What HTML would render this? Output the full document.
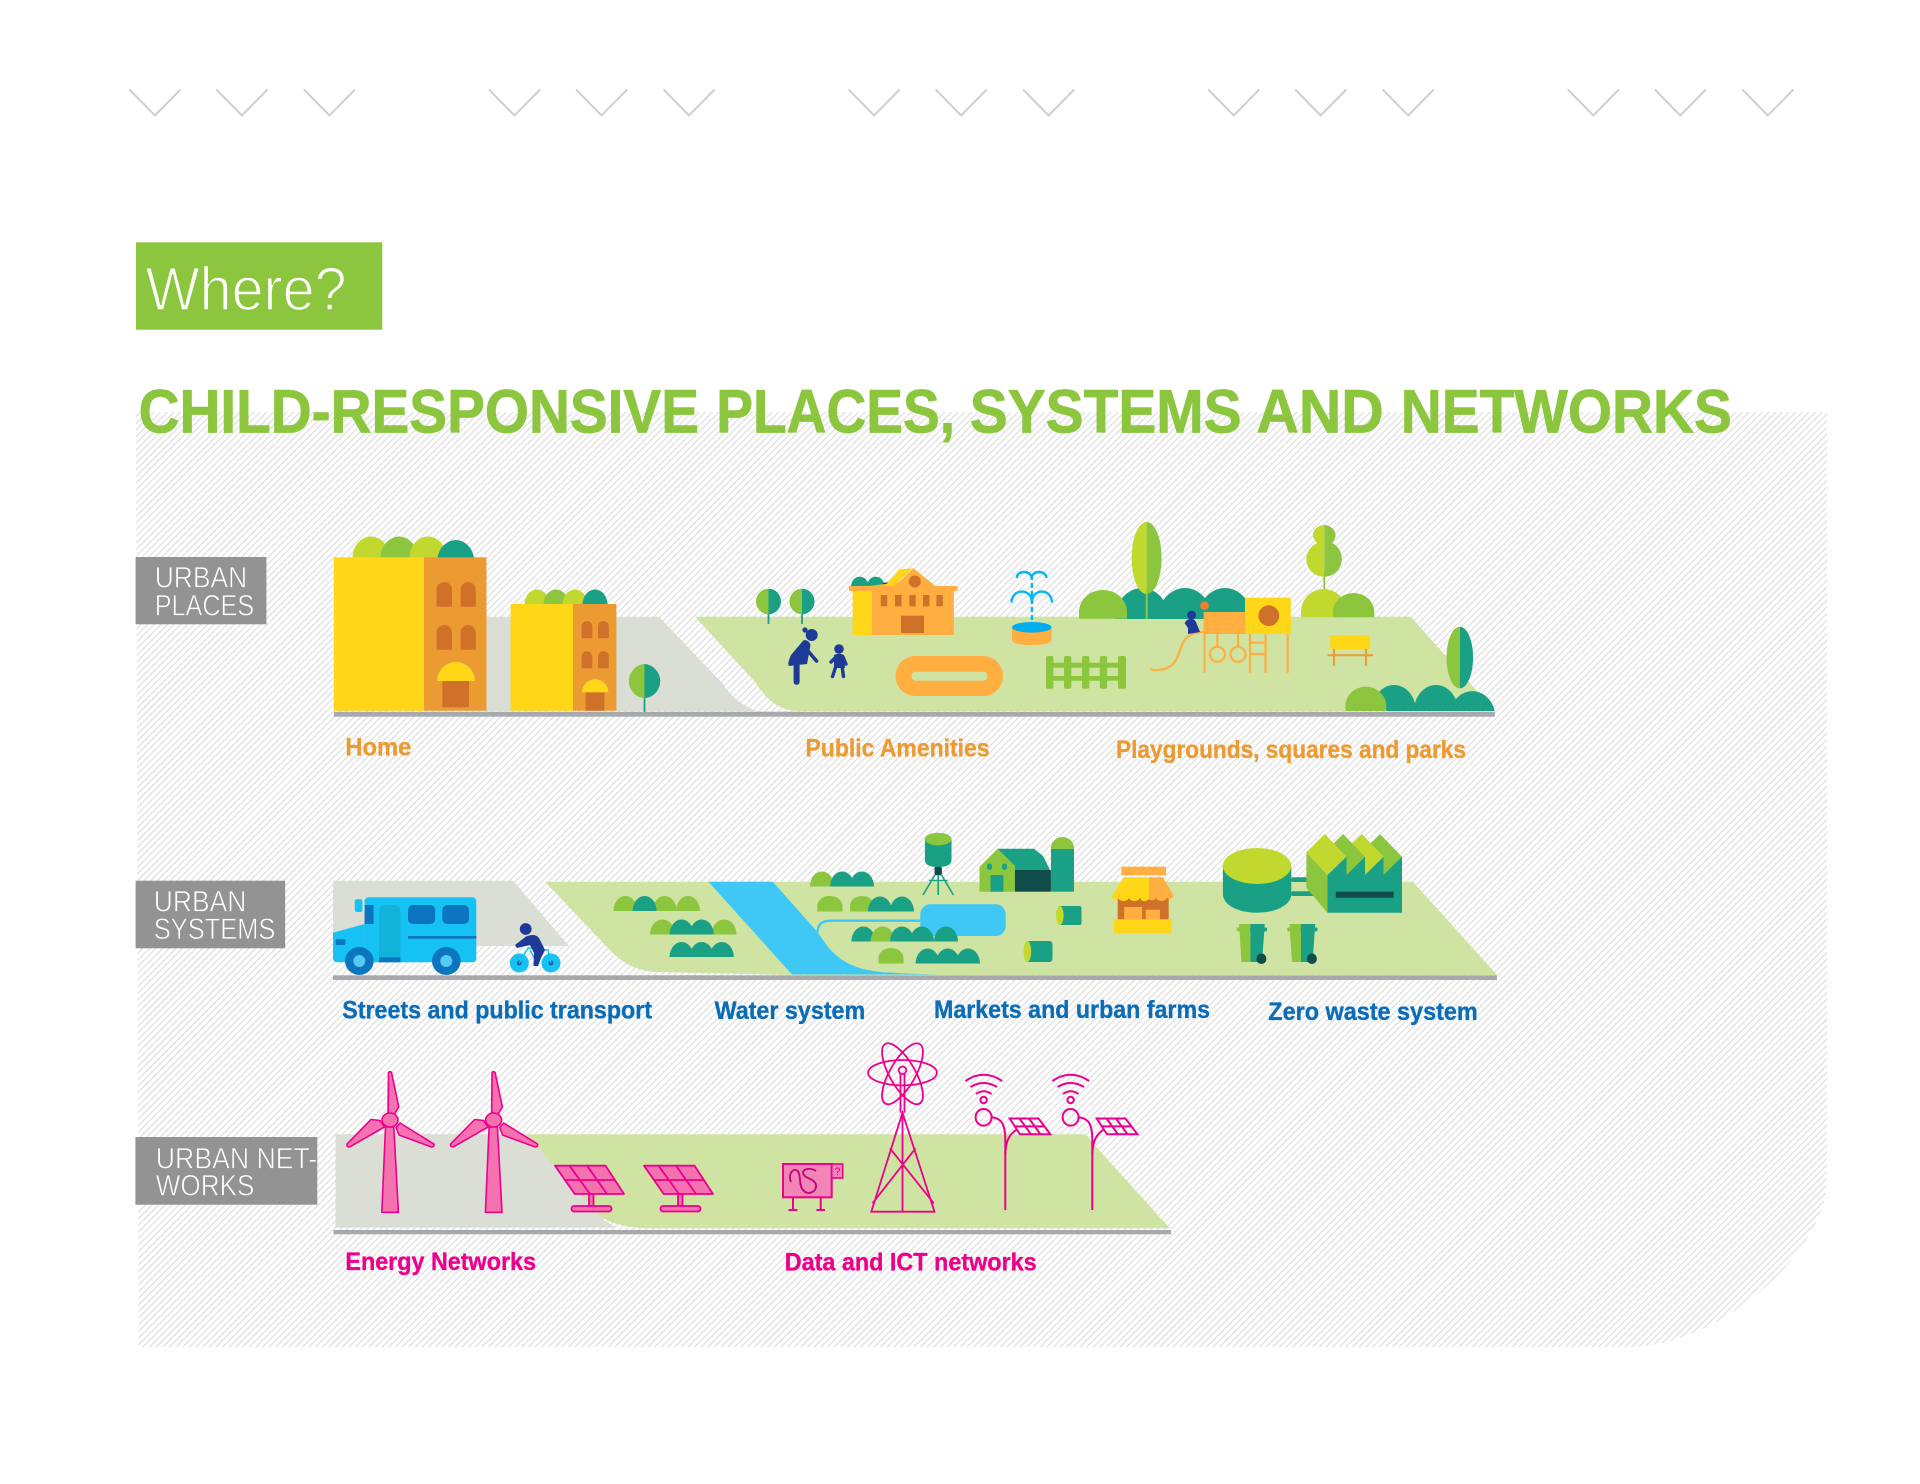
<!DOCTYPE html>
<html><head><meta charset="utf-8"><style>
html,body{margin:0;padding:0;background:#fff}
svg{display:block}
text{font-family:"Liberation Sans",Arial,sans-serif}
.l{font-weight:bold;font-size:25px;stroke-width:.35px}
.t{font-weight:bold;font-size:61.5px;fill:#8cc63f;stroke:#8cc63f;stroke-width:.8px}
.g{fill:#fff;stroke:#939393;stroke-width:.7px;font-size:30px}
</style></head><body>
<svg width="1920" height="1484" viewBox="0 0 1920 1484" xmlns="http://www.w3.org/2000/svg">
<defs>
<pattern id="h" width="4.7" height="4.7" patternUnits="userSpaceOnUse" patternTransform="rotate(45)"><rect width="4.7" height="4.7" fill="#fff"/><rect x="0" width="1.4" height="4.7" fill="#e2e2e2"/></pattern>
<g id="chev"><path d="M129.4 89.5L154.9 115.5L180.5 89.5" fill="none" stroke="#cfcfcf" stroke-width="2"/></g>
<g id="chevs"><use href="#chev"/><use href="#chev" x="87"/><use href="#chev" x="174.5"/></g>
<g id="turb" fill="#f472b0" stroke="#ec008c" stroke-width="1.6" stroke-linejoin="round">
<path d="M385.5 1127L393.8 1127L398.4 1212.3H381.8Z"/>
<path d="M388.5 1072.5Q390 1071 391.5 1072.5L398.8 1107L394.5 1114H388Z"/>
<path d="M347 1144L371 1119.5L380 1120.5L384.5 1127L349.5 1147Q346.5 1147 347 1144Z"/>
<path d="M434 1144L400 1123L396 1127.5L399 1135L431.5 1147Q434.5 1147 434 1144Z"/>
<ellipse cx="390" cy="1120" rx="8" ry="7"/>
</g>
<g id="solar" stroke="#ec008c" stroke-width="1.8" fill="#f472b0" stroke-linejoin="round">
<path d="M555 1165.7H605.6L624 1194H574.7Z"/>
<path d="M569.5 1165.7L590 1194M587 1165.7L607 1194M564.5 1180H614.5" fill="none"/>
<rect x="589" y="1194" width="4.5" height="12"/>
<rect x="571.5" y="1206" width="40" height="5.5" rx="2.5"/>
</g>
<g id="lamp" fill="none" stroke="#ec008c" stroke-width="2">
<path d="M1005.3 1210V1140C1005.3 1125 1002 1118.5 992 1117.3"/>
<ellipse cx="983.6" cy="1117.3" rx="8" ry="8.3"/>
<path d="M1005.3 1155C1005.5 1142 1009 1134 1017 1129.3"/>
<path d="M1009.7 1118.5H1038.5L1050.4 1134.3H1020ZM1019.5 1118.5L1031 1134.3M1029 1118.5L1040.5 1134.3M1014.5 1126.4H1044.5"/>
<circle cx="983.6" cy="1100" r="3.2"/>
<path d="M976 1094Q983.6 1088.5 991.5 1094M970.5 1087Q983.6 1079 997 1087M965.4 1081Q983.6 1068.5 1002.2 1081"/>
</g>
<g id="bin">
<path d="M1239 924H1250.5V962H1241.5Z" fill="#8cc63f"/>
<path d="M1250.5 924H1264.8L1262 962H1250.5Z" fill="#1aa085"/>
<rect x="1236.6" y="927.5" width="14" height="4" rx="1.5" fill="#8cc63f"/>
<rect x="1250" y="927.5" width="17" height="4" rx="1.5" fill="#1aa085"/>
<ellipse cx="1261.4" cy="958.7" rx="5" ry="5.3" fill="#0f4c4a"/>
</g>
</defs>

<path d="M136 412H1827V1180C1827 1250 1720 1347 1630 1347H138.5Z" fill="url(#h)"/>
<use href="#chevs"/><use href="#chevs" x="359.6"/><use href="#chevs" x="719.2"/><use href="#chevs" x="1078.8"/><use href="#chevs" x="1438.4"/>

<rect x="136" y="242.3" width="246.3" height="87.4" fill="#8cc63f"/>
<text x="145.5" y="310" font-size="61" textLength="201" lengthAdjust="spacingAndGlyphs" fill="#fff" stroke="#8cc63f" stroke-width="1.5">Where?</text>
<text class="t" x="138.6" y="432.5" textLength="560.4" lengthAdjust="spacingAndGlyphs">CHILD-RESPONSIVE</text>
<text class="t" x="716.3" y="432.5" textLength="238.7" lengthAdjust="spacingAndGlyphs">PLACES,</text>
<text class="t" x="969.8" y="432.5" textLength="271.8" lengthAdjust="spacingAndGlyphs">SYSTEMS</text>
<text class="t" x="1256.4" y="432.5" textLength="127.3" lengthAdjust="spacingAndGlyphs">AND</text>
<text class="t" x="1400.8" y="432.5" textLength="331" lengthAdjust="spacingAndGlyphs">NETWORKS</text>

<!-- ROW 1 -->
<rect x="135.6" y="557" width="130.8" height="67.3" fill="#939393"/>
<text class="g" x="154.7" y="587.7" textLength="92.5" lengthAdjust="spacingAndGlyphs">URBAN</text>
<text class="g" x="154.7" y="615.3" textLength="99.5" lengthAdjust="spacingAndGlyphs">PLACES</text>

<path d="M334 616.7H659L722 683Q735 703 757 711H334Z" fill="#dbded4"/>
<path d="M695 616.7H1410.7L1494.7 711H800C780 711 768 702 755 682Z" fill="#cfe3a2"/>
<rect x="333.8" y="711.7" width="1161" height="5" fill="#a7a9ac"/>

<path d="M352.5 558A18.5 21.5 0 0 1 389.5 558Z" fill="#c1d82f"/>
<path d="M380.5 558A18.5 21.5 0 0 1 417.5 558Z" fill="#8cc63f"/>
<path d="M409.5 558A18.5 21.5 0 0 1 446.5 558Z" fill="#c1d82f"/>
<path d="M437.5 558A18.5 21.5 0 0 1 474 558Z" fill="#1aa085"/>
<rect x="333.8" y="557.3" width="90.2" height="153.4" fill="#ffd618"/>
<rect x="424" y="557.3" width="62.5" height="153.4" fill="#ec9b33"/>
<g fill="#cf7128">
<path d="M436.5 606.7V590A7.7 8 0 0 1 452 590V606.7Z"/><path d="M460.6 606.7V590A7.6 8 0 0 1 475.8 590V606.7Z"/>
<path d="M436.5 649.7V633A7.7 8 0 0 1 452 633V649.7Z"/><path d="M460.6 649.7V633A7.6 8 0 0 1 475.8 633V649.7Z"/>
<rect x="442.3" y="681" width="26.7" height="26.3"/>
</g>
<path d="M437 681A19 19 0 0 1 475 681Z" fill="#ffd618"/>

<path d="M524.5 604.5A12.5 15 0 0 1 549.5 604.5Z" fill="#c1d82f"/>
<path d="M543.5 604.5A12.5 15 0 0 1 568.5 604.5Z" fill="#8cc63f"/>
<path d="M562.5 604.5A12.5 15 0 0 1 587.5 604.5Z" fill="#c1d82f"/>
<path d="M582.5 604.5A12.5 15 0 0 1 607.5 604.5Z" fill="#1aa085"/>
<rect x="510.6" y="604" width="62.4" height="106.7" fill="#ffd618"/>
<rect x="573" y="604" width="43.4" height="106.7" fill="#ec9b33"/>
<g fill="#cf7128">
<path d="M581.6 638.3V626.5A5.3 5.5 0 0 1 592.3 626.5V638.3Z"/><path d="M598 638.3V626.5A5.4 5.5 0 0 1 608.8 626.5V638.3Z"/>
<path d="M581.6 668.3V656.8A5.3 5.5 0 0 1 592.3 656.8V668.3Z"/><path d="M598 668.3V656.8A5.4 5.5 0 0 1 608.8 656.8V668.3Z"/>
<rect x="585.6" y="692.3" width="18.8" height="18.4"/>
</g>
<path d="M582 692.3A13.2 13 0 0 1 608.4 692.3Z" fill="#ffd618"/>

<!-- leaf trees -->
<rect x="643.6" y="690" width="1.8" height="22" fill="#1aa085"/>
<path d="M644.5 664A17 17.2 0 0 0 644.5 698.3Z" fill="#8cc63f"/><path d="M644.5 664A17 17.2 0 0 1 644.5 698.3Z" fill="#1aa085"/>
<rect x="767.6" y="610" width="1.8" height="14" fill="#1aa085"/>
<path d="M768.5 588.7A12.5 12.8 0 0 0 768.5 614.3Z" fill="#8cc63f"/><path d="M768.5 588.7A12.5 12.8 0 0 1 768.5 614.3Z" fill="#1aa085"/>
<rect x="801.1" y="610" width="1.8" height="14" fill="#1aa085"/>
<path d="M802 588.7A12.5 12.8 0 0 0 802 614.3Z" fill="#8cc63f"/><path d="M802 588.7A12.5 12.8 0 0 1 802 614.3Z" fill="#1aa085"/>

<!-- woman & child -->
<g fill="#1e3a97">
<circle cx="811.7" cy="635" r="6"/><circle cx="805" cy="630" r="2.6"/>
<path d="M803.5 640.2Q809 639.5 810.5 645L807 664L789 666Q787 664 791 655Z"/>
<rect x="793.6" y="660" width="6" height="24.8" rx="2.8"/>
<path d="M808 651L816.5 661" stroke="#1e3a97" stroke-width="3.6" stroke-linecap="round"/>
<circle cx="839" cy="649" r="4.8"/>
<path d="M834 655Q839 652.5 844 655L845 668H834Z"/>
<path d="M831 662L835 658M843 657L846 664M836 666L832.5 676.5M842 666L843.5 676.5" stroke="#1e3a97" stroke-width="3.4" stroke-linecap="round" fill="none"/>
</g>

<!-- public building -->
<path d="M851 586.5A8.7 9.8 0 0 1 868.5 586.5Z" fill="#1aa085"/><path d="M867 586.5A8.7 9.8 0 0 1 884.5 586.5Z" fill="#1aa085"/>
<path d="M880 586.5A8 9.8 0 0 1 893 586.5Z" fill="#0f4c4a"/>
<rect x="852.8" y="591" width="101" height="44" fill="#ffae3f"/>
<rect x="852.8" y="591" width="19.2" height="44" fill="#ffd618"/>
<path d="M869 586L899 582L913.4 568.3L935.4 586Z" fill="#ffae3f"/>
<path d="M885 586L899 569.5L913 568.3L894 586Z" fill="#ffd618"/>
<rect x="849" y="586" width="108.5" height="5" fill="#ffae3f"/>
<circle cx="914.8" cy="581.5" r="6" fill="#cf7128"/>
<g fill="#cf7128"><rect x="880.8" y="595" width="6.4" height="11.3"/><rect x="895" y="595" width="6.5" height="11.3"/><rect x="909.3" y="595" width="6.4" height="11.3"/><rect x="923" y="595" width="6.5" height="11.3"/><rect x="936.4" y="595" width="6.4" height="11.3"/><rect x="901" y="615.7" width="23" height="17.3"/></g>

<!-- fountain -->
<g fill="none" stroke="#00b9f2" stroke-width="2.4">
<path d="M1016.7 578C1017 570 1031 570 1031.6 578C1032 570 1046 570 1046.5 578"/>
<path d="M1011.5 602.5C1012 588 1031.5 588 1032 602C1032.5 588 1051.5 588 1052 602.5"/>
<path d="M1031.9 575V628" stroke-dasharray="5 3"/>
</g>
<path d="M1012 627.3H1051.6V640Q1050 645 1031.8 645Q1013 645 1012 640Z" fill="#ffae3f"/>
<ellipse cx="1031.8" cy="627.3" rx="19.8" ry="5.3" fill="#00aeef"/>

<rect x="895.5" y="656" width="107.5" height="40" rx="20" fill="#ffae3f"/>
<rect x="911.6" y="671.7" width="75.7" height="9" rx="4" fill="#cfe3a2"/>
<g fill="#8cc63f">
<rect x="1046" y="656" width="7.4" height="32.7" rx="2"/><rect x="1064" y="656" width="7.3" height="32.7" rx="2"/><rect x="1082" y="656" width="7.3" height="32.7" rx="2"/><rect x="1099.8" y="656" width="7.3" height="32.7" rx="2"/><rect x="1118" y="656" width="8" height="32.7" rx="2"/>
<rect x="1046" y="662.7" width="80" height="5"/><rect x="1046" y="676" width="80" height="4.7"/>
</g>

<!-- park -->
<g fill="#1aa085"><path d="M1115 619A27 31 0 0 1 1169 619Z"/><path d="M1158 619A27 31 0 0 1 1212 619Z"/><path d="M1198 619A27 31 0 0 1 1252 619Z"/></g>
<path d="M1079 618.7V612A24 22 0 0 1 1127 612V618.7Z" fill="#8cc63f"/>
<rect x="1145.7" y="590" width="2" height="29" fill="#8cc63f"/>
<path d="M1146.6 522A15 36 0 0 0 1146.6 594Z" fill="#c1d82f"/><path d="M1146.6 522A15 36 0 0 1 1146.6 594Z" fill="#8cc63f"/>
<rect x="1323.4" y="570" width="1.8" height="20" fill="#8cc63f"/>
<path d="M1324.3 525C1318 525 1313 530 1313 535C1313 538 1315 541 1317 543C1311 546 1306.4 552 1306.4 559C1306.4 569 1314 576.7 1324.3 576.7Z" fill="#c1d82f"/>
<path d="M1324.3 525C1330 525 1335.6 530 1335.6 535C1335.6 538 1334 541 1332 543C1338 546 1341.8 552 1341.8 559C1341.8 569 1334 576.7 1324.3 576.7Z" fill="#8cc63f"/>
<path d="M1301 617.3V612A22.7 23 0 0 1 1346.4 612V617.3Z" fill="#c1d82f"/>
<path d="M1333 617.3V612A20.6 19 0 0 1 1374.3 612V617.3Z" fill="#8cc63f"/>

<!-- play -->
<g fill="none" stroke="#ffae3f" stroke-width="2.2">
<path d="M1204 632C1180 632 1182 650 1176 660C1172 668 1160 672 1150 669"/>
<path d="M1204.5 634V672.7M1250 634V672.7M1265.6 634V672.7M1287.6 634V672.7M1250 642.7H1265.6M1250 654H1265.6M1217.4 634V647M1238 634V647"/>
<ellipse cx="1217.4" cy="654.3" rx="7.5" ry="7.5"/><ellipse cx="1238" cy="654.3" rx="7.5" ry="7.5"/>
</g>
<rect x="1203.6" y="612" width="41.4" height="22" fill="#ffae3f"/>
<rect x="1245" y="597.7" width="45.8" height="36.3" fill="#ffd618"/>
<circle cx="1268.8" cy="615.7" r="10.4" fill="#cf7128"/>
<circle cx="1204.5" cy="605.7" r="4.4" fill="#e87f2d"/>
<g fill="#1e3a97"><circle cx="1191.6" cy="615" r="4.4"/><path d="M1187 620Q1193 617 1196 622L1200 632L1188 634L1188 628L1184.5 623Z"/></g>

<rect x="1330.3" y="635.3" width="39.5" height="14" fill="#ffd618"/>
<path d="M1327.6 655.2H1373M1334 649V665.7M1366 649V665.7" stroke="#ec9b33" stroke-width="2" fill="none"/>

<path d="M1372 711A22 26 0 0 1 1416 711Z" fill="#1aa085"/><path d="M1414 711A22 26 0 0 1 1458 711Z" fill="#1aa085"/><path d="M1450 711A23 26 0 0 1 1494.7 711Z" fill="#1aa085"/>
<path d="M1459.8 626.7A13.3 30.8 0 0 0 1459.8 688.3Z" fill="#8cc63f"/><path d="M1459.8 626.7A13.3 30.8 0 0 1 1459.8 688.3Z" fill="#1aa085"/>
<path d="M1345.4 711V706A20.4 19.3 0 0 1 1386.3 706V711Z" fill="#8cc63f"/>

<text class="l" x="345.4" y="755.7" fill="#ec9b33" stroke="#ec9b33" textLength="66" lengthAdjust="spacingAndGlyphs">Home</text>
<text class="l" x="805.5" y="756.7" fill="#ec9b33" stroke="#ec9b33" textLength="184" lengthAdjust="spacingAndGlyphs">Public Amenities</text>
<text class="l" x="1116" y="758" fill="#ec9b33" stroke="#ec9b33" textLength="350" lengthAdjust="spacingAndGlyphs">Playgrounds, squares and parks</text>

<!-- ROW 2 -->
<rect x="135.6" y="880.7" width="149.6" height="67.6" fill="#939393"/>
<text class="g" x="153.8" y="911.3" textLength="92.5" lengthAdjust="spacingAndGlyphs">URBAN</text>
<text class="g" x="153.8" y="939" textLength="121.6" lengthAdjust="spacingAndGlyphs">SYSTEMS</text>

<path d="M333 880.7H513L569 946H333Z" fill="#dbded4"/>
<path d="M545 881.7H1413L1497 975H789L655 972C630 970 618 959 604 944Z" fill="#cfe3a2"/>
<path d="M708.4 881.7H772.7L818.4 933C832 955 846 968 878 971.7Q905 974 938 974.5H792Z" fill="#3fc8f6"/>
<rect x="333" y="975.3" width="1164" height="4.7" fill="#a7a9ac"/>

<rect x="920.3" y="904.3" width="85.4" height="31.7" rx="10" fill="#3fc8f6"/>
<path d="M920.5 920.7H830Q818 921 817.5 932" fill="none" stroke="#3fc8f6" stroke-width="2.4"/>

<g fill="#8cc63f"><path d="M613.4 911A12 15 0 0 1 637.4 911Z"/><path d="M652.6 911A12 15 0 0 1 676.6 911Z"/><path d="M676 911A12 15 0 0 1 700 911Z"/>
<path d="M650 934.5A12.4 15 0 0 1 674.8 934.5Z"/><path d="M711.7 934.5A12.4 15 0 0 1 736.5 934.5Z"/>
<path d="M810 886.5A12 15 0 0 1 834 886.5Z"/><path d="M817.3 911.5V906A12.5 10 0 0 1 842.5 906V911.5Z"/><path d="M850 911.5V906A12 10 0 0 1 874 906V911.5Z"/><path d="M878.5 963.5V958A12.5 10 0 0 1 903.5 958V963.5Z"/></g>
<g fill="#1aa085"><path d="M632.6 911A12 15 0 0 1 656.6 911Z"/><path d="M669.6 934.5A12 15 0 0 1 693.6 934.5Z"/><path d="M689.7 934.5A12 15 0 0 1 713.7 934.5Z"/>
<path d="M669.6 957A12 15 0 0 1 693.6 957Z"/><path d="M689.7 957A12 15 0 0 1 713.7 957Z"/><path d="M709.8 957A12 15 0 0 1 733.8 957Z"/>
<path d="M830.2 886.5A12 15 0 0 1 854.2 886.5Z"/><path d="M850 886.5A12 15 0 0 1 874 886.5Z"/><path d="M868 911.5A12 15 0 0 1 892 911.5Z"/><path d="M890 911.5A12 15 0 0 1 914 911.5Z"/>
<path d="M851.4 941.5A12 15 0 0 1 875.4 941.5Z"/></g>
<path d="M870.6 941.5A12 15 0 0 1 894.6 941.5Z" fill="#8cc63f"/>
<g fill="#1aa085"><path d="M890 941.5A12 15 0 0 1 914 941.5Z"/><path d="M910 941.5A12 15 0 0 1 934 941.5Z"/><path d="M934 941.5A12 15 0 0 1 958 941.5Z"/>
<path d="M915.6 963.5A12 15 0 0 1 939.6 963.5Z"/><path d="M935.8 963.5A12 15 0 0 1 959.8 963.5Z"/><path d="M956 963.5A12 15 0 0 1 980 963.5Z"/></g>

<!-- bus -->
<path d="M364.6 924L333 932.7V958Q333 962.3 338 962.3H364.6Z" fill="#16c1f3"/>
<rect x="364.6" y="897.3" width="111.7" height="65" rx="4" fill="#16c1f3"/>
<rect x="354.8" y="899.3" width="7.6" height="12.7" rx="2" fill="#16c1f3"/>
<rect x="364.6" y="905" width="9" height="19" fill="#0b75bf"/>
<path d="M379 962V912Q379 905 386 905H394Q400.4 905 400.4 912V962Z" fill="#11b3d9"/>
<rect x="379" y="957.3" width="21.4" height="5" fill="#0b75bf"/>
<rect x="408" y="905" width="27.2" height="19" rx="5" fill="#0b75bf"/>
<rect x="442.3" y="905" width="26.7" height="19" rx="5" fill="#0b75bf"/>
<rect x="408" y="936" width="68.3" height="2.7" fill="#0b75bf"/>
<rect x="335.6" y="939" width="9.8" height="6" rx="1.5" fill="#0b75bf"/>
<ellipse cx="359.3" cy="961" rx="14.3" ry="14" fill="#0b75bf"/><circle cx="359.3" cy="961" r="6" fill="#53cbf3"/>
<ellipse cx="446.3" cy="961" rx="14.3" ry="14" fill="#0b75bf"/><circle cx="446.3" cy="961" r="6" fill="#53cbf3"/>

<!-- bike -->
<circle cx="519.3" cy="963" r="9.5" fill="#16c1f3"/><circle cx="519.3" cy="963" r="2.5" fill="#1e5fb0"/>
<circle cx="551" cy="963" r="9.5" fill="#16c1f3"/><circle cx="551" cy="963" r="2.5" fill="#1e5fb0"/>
<path d="M519.3 963L528 948L548 950L551 963M530 950L537 963" fill="none" stroke="#16c1f3" stroke-width="1.4"/>
<circle cx="525.7" cy="929" r="5.9" fill="#1e3a97"/>
<path d="M526 936.5Q535 933 539 938L545 950L541 958L538 966H533.5L534 953L530 945L517 948L515 945Z" fill="#1e3a97"/>

<!-- water tower -->
<path d="M924.9 839V860Q925 867 938 867Q951.5 867 951.5 860V839Z" fill="#1aa085"/>
<ellipse cx="938.2" cy="839" rx="13.3" ry="6.3" fill="#8cc63f"/>
<rect x="934.5" y="866.7" width="7.4" height="8.5" rx="2" fill="#0f4c4a"/>
<path d="M938.2 875V895M935 875L923 895M941.5 875L953.4 895M929 880.5H947.5" stroke="#1aa085" stroke-width="1.6" fill="none"/>

<!-- barn -->
<path d="M979.5 866.7L997.4 849L1014.9 866V891.7H979.5Z" fill="#8cc63f"/>
<path d="M997.4 848.7H1034L1043 856L1050 870H1014.9L1014.9 866Z" fill="#1aa085"/>
<rect x="1014.9" y="870" width="36" height="21.7" fill="#0f4c4a"/>
<rect x="1051" y="847" width="23" height="44.7" fill="#1aa085"/>
<path d="M1051 849V848A11.5 11 0 0 1 1074 848V849Z" fill="#8cc63f"/>
<rect x="990.5" y="875" width="12.9" height="16.7" fill="#1aa085"/>
<rect x="987" y="863.5" width="5" height="6.5" rx="2.4" fill="#1aa085"/><rect x="1002" y="863.5" width="5" height="6.5" rx="2.4" fill="#1aa085"/>

<!-- cylinders -->
<path d="M1059 906H1079Q1081.5 906 1081.5 908V923Q1081.5 925 1079 925H1059Z" fill="#1aa085"/><ellipse cx="1059.8" cy="915.5" rx="3.8" ry="9.5" fill="#c1d82f"/>
<path d="M1027 941H1049Q1052.5 941 1052.5 945V958Q1052.5 962 1049 962H1027Z" fill="#1aa085"/><ellipse cx="1027.4" cy="951.5" rx="3.8" ry="10.5" fill="#c1d82f"/>

<!-- shop -->
<rect x="1121.4" y="866.7" width="44.6" height="8.6" fill="#ffae3f"/>
<rect x="1117.7" y="895" width="51" height="25" fill="#cf7128"/>
<path d="M1124 877.3H1149V899C1146 902 1142 902 1140 898C1138 902 1131 902 1129 898C1127 902 1120 902 1118 898C1116 900 1113 899 1112 896Z" fill="#ffd618"/>
<path d="M1149 877.3H1163L1173.8 896C1172 899 1169 900 1167 898C1165 902 1158 902 1156 898C1155 901 1151 901 1149 899Z" fill="#ffae3f"/>
<rect x="1124.2" y="907" width="17.9" height="12.3" fill="#ffae3f"/>
<rect x="1145.7" y="909.7" width="14.2" height="9.6" fill="#ffae3f"/>
<rect x="1114" y="919.3" width="57.4" height="14" fill="#ffd618"/>

<!-- digester + factory -->
<path d="M1222.9 866V894C1222.9 905 1238 912.7 1257 912.7C1276 912.7 1291.3 905 1291.3 894V866Z" fill="#1aa085"/>
<ellipse cx="1257" cy="866" rx="34.2" ry="18" fill="#c1d82f"/>
<rect x="1291" y="877.3" width="28" height="4.7" rx="2" fill="#1aa085"/><rect x="1291" y="891.3" width="28" height="4.7" rx="2" fill="#1aa085"/>
<path d="M1306.4 852.3L1327.5 875V912.7L1306.4 888Z" fill="#8cc63f"/>
<path d="M1362 852L1379.9 834L1402 856.7V875H1383.5Z" fill="#8cc63f"/>
<path d="M1343 852L1362 834L1383.5 856.7V875H1365Z" fill="#c1d82f"/>
<path d="M1324.8 852L1343.2 834L1364.7 856.7L1365 875H1346.5Z" fill="#8cc63f"/>
<path d="M1306.4 852.3L1324.8 834L1346.4 856.7L1327.5 875Z" fill="#c1d82f"/>
<path d="M1327.5 875L1346.5 856.7V875L1365 856.7V875L1383.5 856.7V875L1402 856.7V912.7H1327.5Z" fill="#1aa085"/>
<rect x="1335.8" y="891.7" width="57.9" height="6" fill="#0f4c4a"/>

<use href="#bin"/><use href="#bin" x="50.5"/>

<text class="l" x="342.3" y="1018.3" fill="#0b6cb8" stroke="#0b6cb8" textLength="309.7" lengthAdjust="spacingAndGlyphs">Streets and public transport</text>
<text class="l" x="714.6" y="1019" fill="#0b6cb8" stroke="#0b6cb8" textLength="150.6" lengthAdjust="spacingAndGlyphs">Water system</text>
<text class="l" x="934" y="1018" fill="#0b6cb8" stroke="#0b6cb8" textLength="276" lengthAdjust="spacingAndGlyphs">Markets and urban farms</text>
<text class="l" x="1268.3" y="1020" fill="#0b6cb8" stroke="#0b6cb8" textLength="209.4" lengthAdjust="spacingAndGlyphs">Zero waste system</text>

<!-- ROW 3 -->
<rect x="135.4" y="1137" width="181.9" height="67.7" fill="#939393"/>
<text class="g" x="155.8" y="1168.3" textLength="161.5" lengthAdjust="spacingAndGlyphs">URBAN NET-</text>
<text class="g" x="155.8" y="1195.3" textLength="98.6" lengthAdjust="spacingAndGlyphs">WORKS</text>

<path d="M527 1134.3H1086L1096 1146.7L1169.8 1228.3H646C625 1228 605 1222 590 1210Z" fill="#cfe3a2"/>
<path d="M335.5 1134.3H527L537 1146.7L604 1220L616 1227.7H335.5Z" fill="#dbded4"/>
<rect x="333.5" y="1230" width="837.5" height="4.3" fill="#a7a9ac"/>

<use href="#turb"/><use href="#turb" x="103.6"/>
<use href="#solar"/><use href="#solar" x="89"/>

<!-- data box -->
<rect x="783" y="1164" width="48.7" height="33.3" fill="#f285b8" stroke="#ec008c" stroke-width="2"/>
<rect x="831.7" y="1164" width="11" height="14" fill="#f285b8" stroke="#ec008c" stroke-width="1.6"/>
<text x="834.5" y="1175" font-size="11" fill="#ec008c">?</text>
<path d="M793 1197.3V1210M788.5 1210H797.5M820.7 1197.3V1210M816.5 1210H825" stroke="#ec008c" stroke-width="2" fill="none"/>
<path d="M791 1182C788 1175 792 1169 796 1170C802 1172 798 1185 803 1190C808 1196 817 1192 816 1185C815 1178 803 1179 803 1172C804 1168 812 1168 816 1171" fill="none" stroke="#c4007a" stroke-width="1.8"/>

<!-- tower -->
<g fill="none" stroke="#ec008c" stroke-width="1.8">
<path d="M902.5 1112.7L871.3 1211.7H934.5ZM902.5 1112.7V1211.7M900.5 1074V1112.7M904.5 1074V1112.7M890 1148.3L933.8 1203.3M915.6 1148.3L872.5 1203.3"/>
<circle cx="902.5" cy="1070.3" r="3.8"/>
<ellipse cx="902.5" cy="1072.7" rx="34.4" ry="12.7"/>
<ellipse cx="902.5" cy="1073.8" rx="34.4" ry="12.7" transform="rotate(60 902.5 1073.8)"/>
<ellipse cx="902.5" cy="1073.8" rx="34.4" ry="12.7" transform="rotate(-60 902.5 1073.8)"/>
</g>

<use href="#lamp"/><use href="#lamp" x="87"/>

<text class="l" x="345.4" y="1270" fill="#ec008c" stroke="#ec008c" textLength="190.6" lengthAdjust="spacingAndGlyphs">Energy Networks</text>
<text class="l" x="784.7" y="1270.7" fill="#ec008c" stroke="#ec008c" textLength="252" lengthAdjust="spacingAndGlyphs">Data and ICT networks</text>
</svg>
</body></html>
